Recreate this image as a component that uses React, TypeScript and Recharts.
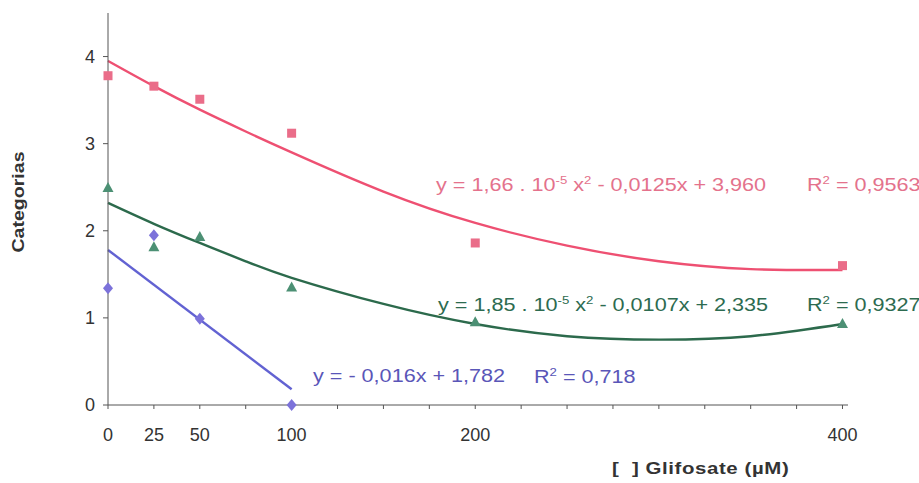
import React from 'react';
import { ComposedChart, Line, Scatter, XAxis, YAxis } from 'recharts';

// glyphosate concentrations (µM)
const doses = [0, 25, 50, 100, 200, 400];
const blueDoses = [0, 25, 50, 100];

// observed categories
const pinkValues = [3.78, 3.66, 3.51, 3.12, 1.86, 1.6];
const greenValues = [2.49, 1.81, 1.93, 1.35, 0.95, 0.93];
const blueValues = [1.34, 1.95, 0.99, 0.0];

// trend lines
const trendX = [0, 25, 50, 75, 100, 150, 200, 250, 300, 350, 400];
const pinkTrend = [3.95, 3.66, 3.39, 3.14, 2.9, 2.45, 2.09, 1.83, 1.65, 1.56, 1.55];
const greenTrend = [2.32, 2.08, 1.86, 1.65, 1.46, 1.16, 0.93, 0.79, 0.75, 0.79, 0.93];
const blueTrendX = [0, 100];
const blueTrend = [1.78, 0.18];

const xTicks = [0, 25, 50, 75, 100, 125, 150, 175, 200, 225, 250, 275, 300, 325, 350, 375, 400];
const xTickLabels = [0, 25, 50, 100, 200, 400];
const yTicks = [0, 1, 2, 3, 4];

const PINK = '#ee5072';
const PINK_MARK = '#ea6d89';
const GREEN = '#2c6a4c';
const GREEN_MARK = '#4c9074';
const BLUE = '#6262d2';
const BLUE_MARK = '#7c72da';

const FONT = '"Liberation Sans", Arial, sans-serif';

const toPoints = (xs: number[], ys: number[]) => xs.map((x, i) => ({ x, y: ys[i] }));

const Square = (props: any) => {
  const { cx, cy } = props;
  return <rect x={cx - 4.5} y={cy - 4.5} width={9} height={9} fill={PINK_MARK} />;
};

const Triangle = (props: any) => {
  const { cx, cy } = props;
  return <polygon points={`${cx},${cy - 6} ${cx + 5.5},${cy + 4} ${cx - 5.5},${cy + 4}`} fill={GREEN_MARK} />;
};

const Diamond = (props: any) => {
  const { cx, cy } = props;
  return <polygon points={`${cx},${cy - 6} ${cx + 5},${cy} ${cx},${cy + 6} ${cx - 5},${cy}`} fill={BLUE_MARK} />;
};

// the scan is a little stretched sideways, so the labels are too
const textBase: React.CSSProperties = {
  position: 'absolute',
  fontFamily: FONT,
  fontSize: 18,
  whiteSpace: 'nowrap',
  lineHeight: 1,
  transform: 'translateY(-50%) scaleX(1.2)',
  transformOrigin: 'left center',
};

const sup: React.CSSProperties = { fontSize: 11, verticalAlign: 7 };

export default function App() {
  return (
    <div style={{ position: 'absolute', left: 0, top: 0, width: 919, height: 483, background: '#fff' }}>
      <ComposedChart width={919} height={483} margin={{ top: 13, right: 71, bottom: 0, left: 0 }}>
        <XAxis
          type="number"
          dataKey="x"
          domain={[0, 403]}
          ticks={xTicks}
          interval={0}
          tickFormatter={(v: number) => (xTickLabels.includes(v) ? String(v) : '')}
          height={78}
          tickSize={4}
          tickMargin={19}
          stroke="#555"
          tick={{ fill: '#333', fontSize: 18, fontFamily: FONT }}
        />
        <YAxis
          type="number"
          dataKey="y"
          domain={[0, 4.5]}
          ticks={yTicks}
          width={108}
          tickSize={5}
          tickMargin={8}
          stroke="#555"
          tick={{ fill: '#333', fontSize: 18, fontFamily: FONT }}
        />
        <Line data={toPoints(trendX, pinkTrend)} dataKey="y" type="natural" stroke={PINK} strokeWidth={2.4} dot={false} isAnimationActive={false} />
        <Line data={toPoints(trendX, greenTrend)} dataKey="y" type="natural" stroke={GREEN} strokeWidth={2.4} dot={false} isAnimationActive={false} />
        <Line data={toPoints(blueTrendX, blueTrend)} dataKey="y" type="linear" stroke={BLUE} strokeWidth={2.4} dot={false} isAnimationActive={false} />
        <Scatter data={toPoints(doses, pinkValues)} dataKey="y" shape={Square} isAnimationActive={false} />
        <Scatter data={toPoints(doses, greenValues)} dataKey="y" shape={Triangle} isAnimationActive={false} />
        <Scatter data={toPoints(blueDoses, blueValues)} dataKey="y" shape={Diamond} isAnimationActive={false} />
      </ComposedChart>

      <div style={{ ...textBase, left: 436, top: 184, color: '#e4728c' }}>
        y = 1,66 . 10<span style={sup}>-5</span> x<span style={sup}>2</span> - 0,0125x + 3,960
      </div>
      <div style={{ ...textBase, left: 807, top: 184, color: '#e4728c' }}>
        R<span style={sup}>2</span> = 0,9563
      </div>
      <div style={{ ...textBase, left: 438, top: 304, color: '#2d6b50' }}>
        y = 1,85 . 10<span style={sup}>-5</span> x<span style={sup}>2</span> - 0,0107x + 2,335
      </div>
      <div style={{ ...textBase, left: 807, top: 304, color: '#2d6b50' }}>
        R<span style={sup}>2</span> = 0,9327
      </div>
      <div style={{ ...textBase, left: 313, top: 376, color: '#5a56b8' }}>
        y = - 0,016x + 1,782
      </div>
      <div style={{ ...textBase, left: 534, top: 376, color: '#5a56b8' }}>
        R<span style={sup}>2</span> = 0,718
      </div>

      <div
        style={{
          ...textBase,
          left: 18,
          top: 202,
          fontSize: 17,
          fontWeight: 'bold',
          color: '#333',
          transform: 'translate(-50%, -50%) rotate(-90deg) scaleX(1.15)',
          transformOrigin: 'center center',
        }}
      >
        Categorias
      </div>
      <div style={{ ...textBase, left: 612, top: 468, fontSize: 17, fontWeight: 'bold', color: '#333', letterSpacing: 0.5 }}>
        [ &nbsp;] Glifosate (µM)
      </div>
    </div>
  );
}
